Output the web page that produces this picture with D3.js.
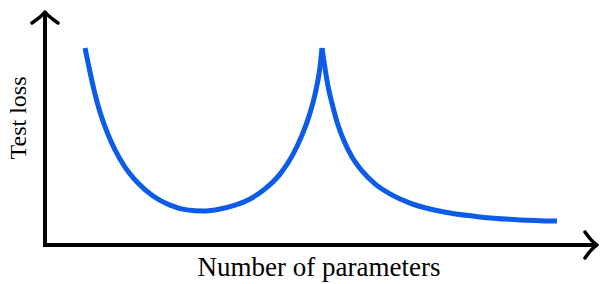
<!DOCTYPE html>
<html>
<head>
<meta charset="utf-8">
<script src="https://cdn.jsdelivr.net/npm/d3@7"></script>
<style>
  body { margin: 0; background: #fff; }
  text { font-family: "Liberation Serif", "Times New Roman", serif; fill: #000; }
</style>
</head>
<body>
<script>
// Double-descent curve (params 0-100, loss 0-1)
var leftParams = [7.25, 8.15, 9.06, 9.96, 11.23, 12.68, 14.49, 16.85, 19.57, 22.64, 25.72, 28.62, 31.7, 34.42, 37.14, 39.86, 42.57, 44.75, 46.56, 48.01, 49.09, 49.82, 50.18];
var leftLoss   = [0.864, 0.759, 0.662, 0.583, 0.496, 0.417, 0.342, 0.272, 0.215, 0.175, 0.154, 0.149, 0.158, 0.175, 0.202, 0.246, 0.311, 0.39, 0.482, 0.579, 0.68, 0.781, 0.864];
var rightParams = [50.18, 50.72, 51.27, 52.17, 53.08, 54.17, 55.62, 57.43, 59.78, 62.5, 66.12, 69.75, 73.37, 78.8, 86.05, 92.75];
var rightLoss   = [0.864, 0.776, 0.697, 0.605, 0.526, 0.456, 0.386, 0.325, 0.268, 0.224, 0.184, 0.158, 0.14, 0.123, 0.11, 0.105];

var xLabel = "Number of parameters",
    yLabel = "Test loss";

var width = 602, height = 284;
var margin = {top: 17, right: 5, bottom: 39, left: 45};

var x = d3.scaleLinear().domain([0, 100]).range([margin.left, width - margin.right]);
var y = d3.scaleLinear().domain([0, 1]).range([height - margin.bottom, margin.top]);

var svg = d3.select("body").append("svg")
    .attr("width", width)
    .attr("height", height);

// axes with open arrowheads
var x0 = x(0), y0 = y(0), xEnd = width - margin.right, yEnd = 12;
svg.append("path")
    .attr("d", "M" + x0 + "," + (y0 + 2) + "V" + yEnd + "M" + (x0 - 2) + "," + y0 + "H" + xEnd)
    .attr("fill", "none")
    .attr("stroke", "#000")
    .attr("stroke-width", 4);

svg.append("path")
    .attr("d",
      "M" + (xEnd - 12) + "," + (y0 - 13) + "Q" + (xEnd - 5) + "," + (y0 - 3) + " " + xEnd + "," + y0 +
      "Q" + (xEnd - 5) + "," + (y0 + 3) + " " + (xEnd - 12) + "," + (y0 + 13) +
      "M" + (x0 - 13) + "," + (yEnd + 11) + "Q" + (x0 - 3) + "," + (yEnd + 4) + " " + x0 + "," + yEnd +
      "Q" + (x0 + 3) + "," + (yEnd + 4) + " " + (x0 + 13) + "," + (yEnd + 11))
    .attr("fill", "none")
    .attr("stroke", "#000")
    .attr("stroke-width", 3.5)
    .attr("stroke-linecap", "round")
    .attr("stroke-linejoin", "round");

// the curve, two branches meeting at the peak
var line = d3.line()
    .x(function(d) { return x(d[0]); })
    .y(function(d) { return y(d[1]); })
    .curve(d3.curveMonotoneX);

[d3.zip(leftParams, leftLoss), d3.zip(rightParams, rightLoss)].forEach(function(pts) {
  svg.append("path")
      .attr("d", line(pts))
      .attr("fill", "none")
      .attr("stroke", "#0b5ce8")
      .attr("stroke-width", 5)
      .attr("stroke-linejoin", "round");
});

// labels
svg.append("text")
    .attr("x", 319)
    .attr("y", 276)
    .attr("text-anchor", "middle")
    .style("font-size", "27px")
    .text(xLabel);

svg.append("text")
    .attr("transform", "translate(26,118) rotate(-90)")
    .attr("text-anchor", "middle")
    .style("font-size", "24px")
    .text(yLabel);
</script>
</body>
</html>
